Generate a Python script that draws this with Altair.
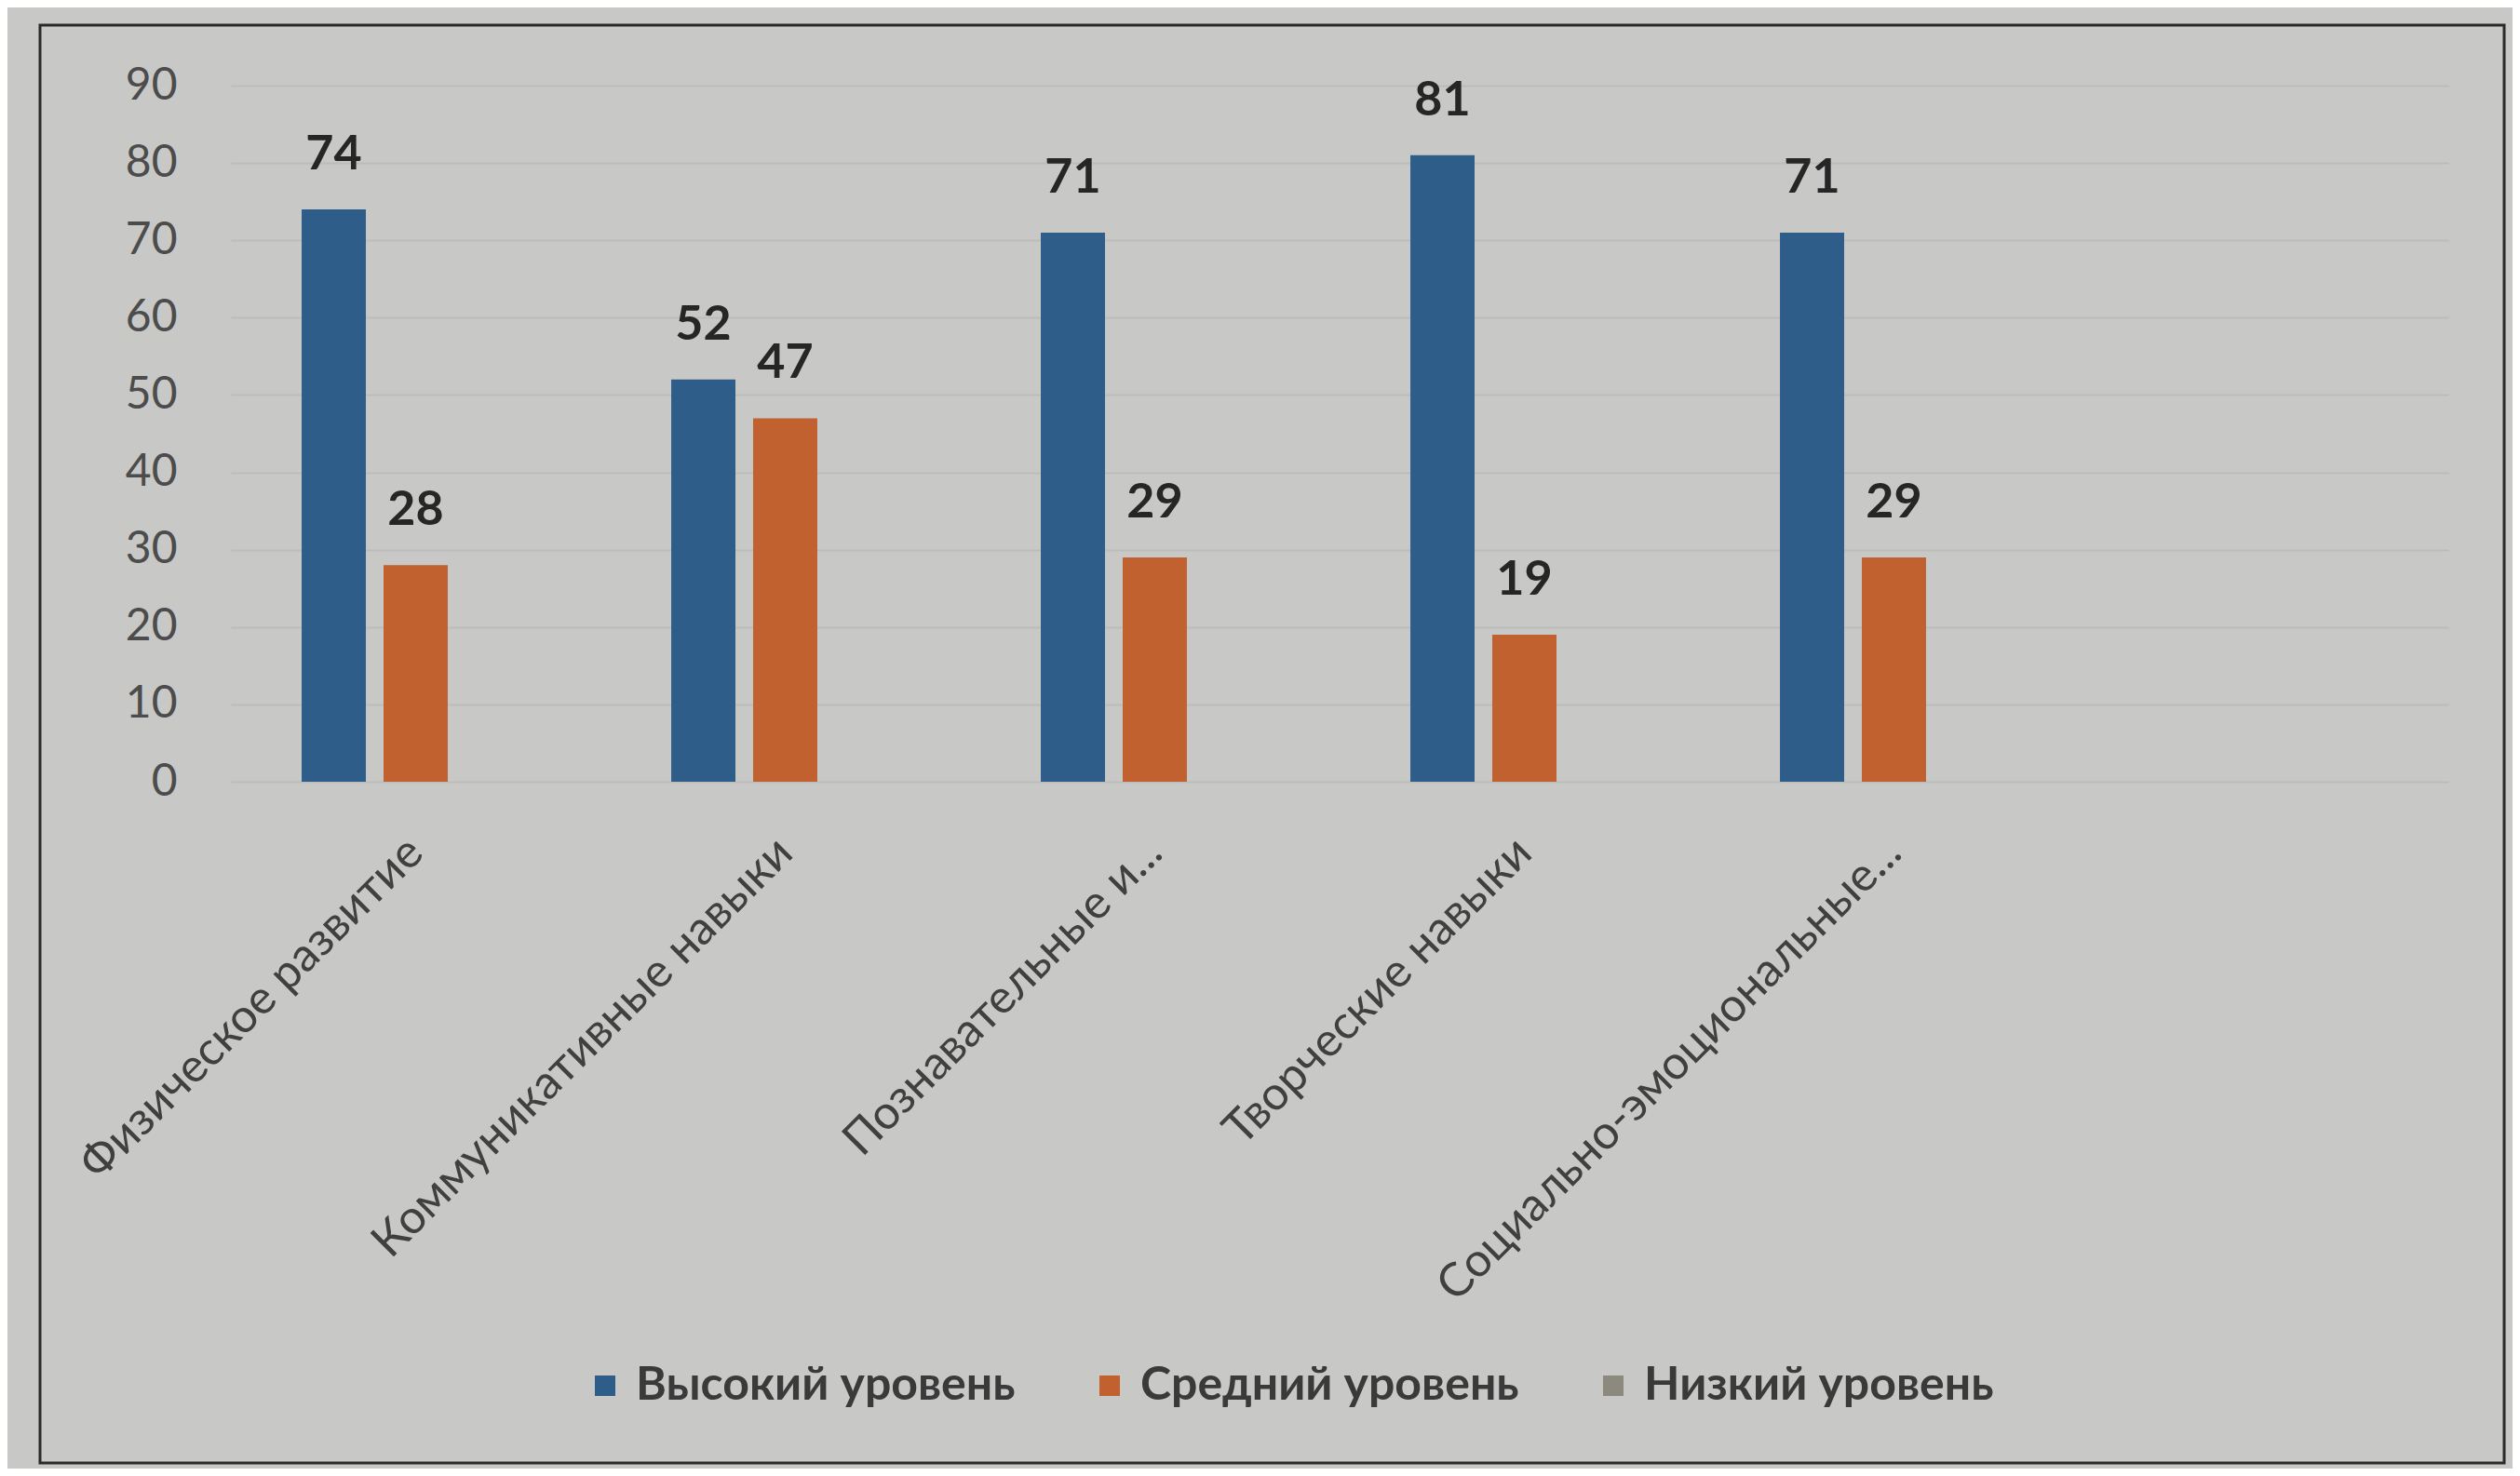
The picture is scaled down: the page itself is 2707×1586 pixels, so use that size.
import altair as alt
import pandas as pd

categories = [
    "Физическое развитие",
    "Коммуникативные навыки",
    "Познавательные и...",
    "Творческие навыки",
    "Социально-эмоциональные...",
]
extra_slot = [" "]
series = ["Высокий уровень", "Средний уровень", "Низкий уровень"]
high = [74, 52, 71, 81, 71]
medium = [28, 47, 29, 19, 29]
low = [0, 0, 0, 0, 0]
colors = ["#2f5d8a", "#c0612f", "#8c897f"]
y_ticks = [0, 10, 20, 30, 40, 50, 60, 70, 80, 90]

rows = []
for i, c in enumerate(categories):
    for s, vals in zip(series, [high, medium, low]):
        rows.append({"cat": c, "series": s, "value": vals[i]})
df = pd.DataFrame(rows)

FONT = "Lato"

x_enc = alt.X(
    "cat:N",
    sort=categories + extra_slot,
    scale=alt.Scale(domain=categories + extra_slot, paddingInner=0.383, paddingOuter=0.1915),
    axis=alt.Axis(
        title=None, labelAngle=-45, labelAlign="right", labelBaseline="middle",
        labelFont=FONT, labelFontSize=50, labelColor="#404040", labelPadding=68,
        ticks=False, domain=False, labelLimit=1000, labelOverlap=False, grid=False,
    ),
)
xoff = alt.XOffset("series:N", scale=alt.Scale(domain=series, paddingInner=0.216, paddingOuter=0))
y_enc = alt.Y(
    "value:Q",
    scale=alt.Scale(domain=[0, 90], nice=False),
    axis=alt.Axis(
        values=y_ticks, title=None, labelFont=FONT, labelFontSize=48, labelColor="#4c4c4c",
        labelPadding=58, ticks=False, domain=False, gridColor="#bcbcba", gridWidth=2,
    ),
)

bars = alt.Chart(df).mark_bar().encode(
    x=x_enc,
    xOffset=xoff,
    y=y_enc,
    color=alt.Color(
        "series:N",
        scale=alt.Scale(domain=series, range=colors),
        legend=alt.Legend(
            orient="none", legendX=377, legendY=1372, direction="horizontal", title=None,
            symbolType="square", symbolSize=484, symbolStrokeWidth=0,
            labelFont=FONT, labelFontSize=50, labelFontWeight="bold", labelColor="#3a3a3a",
            labelOffset=8, columnPadding=76, labelLimit=1000,
        ),
    ),
)

labels = alt.Chart(df).transform_filter("datum.value > 0").mark_text(
    font=FONT, fontSize=52, fontWeight="bold", color="#262626",
    baseline="alphabetic", dy=-43,
).encode(
    x=alt.X("cat:N", sort=categories + extra_slot),
    xOffset=alt.XOffset("series:N"),
    y=alt.Y("value:Q"),
    text=alt.Text("value:Q"),
)

frame = alt.Chart(pd.DataFrame({"f": [0]})).mark_rect(
    fillOpacity=0, stroke="#2a2a2a", strokeWidth=3
).encode(
    x=alt.value(-205), x2=alt.value(2442), y=alt.value(-65), y2=alt.value(1480)
)

chart = alt.layer(frame, bars, labels).properties(
    width=2382, height=748,
    autosize=alt.AutoSizeParams(type="none"),
    padding={"left": 240, "top": 84, "right": 69, "bottom": 738},
    background="#c8c8c6",
).configure_view(stroke=None)

chart.save("out.html", embed_options={"renderer": "svg", "actions": False})
